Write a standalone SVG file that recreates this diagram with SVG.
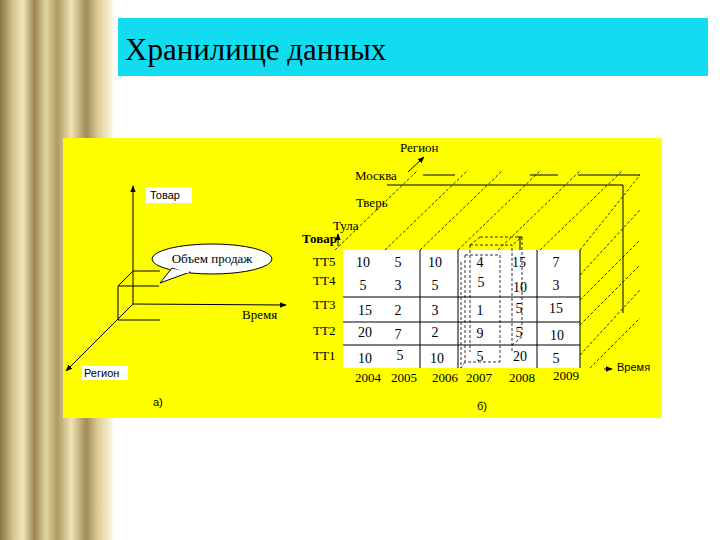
<svg xmlns="http://www.w3.org/2000/svg" width="720" height="540" viewBox="0 0 720 540">
<defs>
<linearGradient id="col" x1="0" x2="1" y1="0" y2="0">
<stop offset="0" stop-color="#8a7442"/><stop offset="0.12" stop-color="#d8c690"/><stop offset="0.2" stop-color="#f2e6bb"/><stop offset="0.3" stop-color="#9c8450"/><stop offset="0.4" stop-color="#e3d4a0"/><stop offset="0.5" stop-color="#b09a62"/><stop offset="0.62" stop-color="#efe3b6"/><stop offset="0.75" stop-color="#a08a55"/><stop offset="0.85" stop-color="#dccb95"/><stop offset="0.95" stop-color="#f5edd0"/><stop offset="1" stop-color="#ffffff"/>
</linearGradient>
<marker id="ar" viewBox="0 0 10 10" refX="9" refY="5" markerWidth="7" markerHeight="7" orient="auto"><path d="M0,1 L10,5 L0,9 z" fill="#000"/></marker>
<style>
.t{font-family:"Liberation Serif",serif;font-size:13px;fill:#000}
.s{font-family:"Liberation Sans",sans-serif;font-size:11px;fill:#000}
.n{font-family:"Liberation Serif",serif;font-size:14px;fill:#000;text-anchor:middle}
.l{stroke:#000;stroke-width:1;fill:none}
.d{stroke:#000;stroke-width:0.8;stroke-dasharray:3,2;fill:none}
</style>
</defs>
<rect width="720" height="540" fill="#fff"/>
<rect x="0" y="0" width="115" height="540" fill="url(#col)"/>
<g id="title"><rect x="118" y="18" width="590" height="58" fill="#12dcf0"/>
<text x="125" y="60" style="font-family:'Liberation Serif',serif;font-size:31px">Хранилище данных</text></g>
<rect x="63" y="138" width="599" height="280" fill="#ffff00"/>
<g id="connectors">
<line class="l" x1="133" y1="304" x2="133" y2="186" marker-end="url(#ar)"/>
<line class="l" x1="133" y1="304" x2="286" y2="305" marker-end="url(#ar)"/>
<line class="l" x1="133" y1="304" x2="66" y2="371" marker-end="url(#ar)"/>
<path class="l" stroke-width="0.6" d="M133,271 H160 M133,271 L118,286 H159 M118,286 V320 H160"/>
<line class="l" x1="408" y1="172" x2="424" y2="157" marker-end="url(#ar)"/>
<line class="l" x1="338" y1="246" x2="338" y2="234" marker-end="url(#ar)"/>
<line class="l" x1="604" y1="369" x2="612" y2="369" marker-end="url(#ar)"/>
<path class="l" d="M387,185 H623 V313"/>
<path class="l" d="M423,175 H455 M530,175 H558 M578,175 H640"/>
<path class="l" d="M520,237 V250 M518,237 H520"/>
<g class="d">
<line x1="335" y1="250" x2="418" y2="170"/><line x1="385" y1="250" x2="468" y2="170"/>
<line x1="420" y1="250" x2="503" y2="170"/><line x1="458" y1="250" x2="541" y2="170"/>
<line x1="498" y1="250" x2="581" y2="170"/><line x1="540" y1="250" x2="623" y2="170"/>
<line x1="580" y1="250" x2="640" y2="175"/><line x1="580" y1="275" x2="640" y2="210"/>
<line x1="580" y1="300" x2="640" y2="240"/><line x1="580" y1="325" x2="640" y2="265"/>
<line x1="580" y1="355" x2="640" y2="290"/><line x1="590" y1="368" x2="640" y2="318"/>
<line x1="460" y1="283" x2="472" y2="272"/><line x1="497" y1="283" x2="510" y2="272"/>
<line x1="460" y1="320" x2="472" y2="309"/><line x1="497" y1="320" x2="510" y2="309"/>
<line x1="465" y1="365" x2="478" y2="352"/><line x1="497" y1="365" x2="510" y2="352"/>
</g>
</g>
<g id="left">
<rect x="146" y="187" width="46" height="16" fill="#fff"/><text class="s" x="150" y="199">Товар</text>
<ellipse cx="212" cy="259" rx="60" ry="15" fill="#fff" stroke="#000"/>
<path d="M172,268 L160,283 L190,272 Z" fill="#fff" stroke="#000"/>
<path d="M173,266 L189,272" stroke="#fff" stroke-width="3"/>
<text class="t" x="212" y="263" text-anchor="middle" font-size="12">Объем продаж</text>
<text class="t" x="242" y="319">Время</text>
<rect x="82" y="366" width="46" height="14" fill="#fff"/><text class="s" x="84" y="377">Регион</text>
<text class="s" x="153" y="406" font-size="12">а)</text>
</g>
<g id="right">
<text class="t" x="400" y="152" font-size="11">Регион</text>
<text class="t" x="355" y="180" font-size="11">Москва</text>
<text class="t" x="356" y="207" font-size="11">Тверь</text>
<text class="t" x="333" y="230" font-size="11">Тула</text>
<text class="t" x="302" y="243" font-size="12" font-weight="bold">Товар</text>
<rect x="343" y="250" width="237" height="118" fill="#fff"/>
<g class="l"><line x1="420" y1="250" x2="420" y2="368"/><line x1="458" y1="250" x2="458" y2="368"/><line x1="537" y1="250" x2="537" y2="368"/><line x1="580" y1="250" x2="580" y2="368"/>
<line x1="343" y1="297" x2="580" y2="297"/><line x1="343" y1="322" x2="580" y2="322"/><line x1="343" y1="345" x2="580" y2="345"/></g>
<g class="d"><path d="M470,245 H512 V352 M470,245 V352 M465,255 H500 V362 M465,255 V362 H500 M461,262 V368 M465,362 L461,368"/>
<path d="M480,237 H522 L512,245 M480,237 L470,245 M522,237 V337 L512,345"/></g>
<g class="t" font-size="11"><text x="313" y="266">ТТ5</text><text x="313" y="285">ТТ4</text><text x="313" y="309">ТТ3</text><text x="313" y="335">ТТ2</text><text x="313" y="360">ТТ1</text></g>
<g class="n">
<text x="363" y="267">10</text><text x="398" y="267">5</text><text x="435" y="267">10</text><text x="480" y="267">4</text><text x="519" y="267">15</text><text x="556" y="267">7</text>
<text x="363" y="290">5</text><text x="398" y="290">3</text><text x="435" y="290">5</text><text x="481" y="287">5</text><text x="520" y="292">10</text><text x="556" y="290">3</text>
<text x="365" y="315">15</text><text x="398" y="315">2</text><text x="435" y="315">3</text><text x="480" y="315">1</text><text x="519" y="313">5</text><text x="556" y="313">15</text>
<text x="365" y="337">20</text><text x="398" y="339">7</text><text x="435" y="337">2</text><text x="480" y="338">9</text><text x="519" y="337">5</text><text x="557" y="340">10</text>
<text x="365" y="363">10</text><text x="400" y="360">5</text><text x="437" y="363">10</text><text x="480" y="361">5</text><text x="520" y="361">20</text><text x="556" y="363">5</text>
</g>
<g class="t" font-size="11" text-anchor="middle"><text x="368" y="382">2004</text><text x="404" y="382">2005</text><text x="445" y="382">2006</text><text x="479" y="382">2007</text><text x="522" y="382">2008</text><text x="566" y="380">2009</text></g>
<text class="s" x="617" y="371" font-size="12">Время</text>
<text class="s" x="477" y="410" font-size="12">б)</text>
</g>
</svg>
